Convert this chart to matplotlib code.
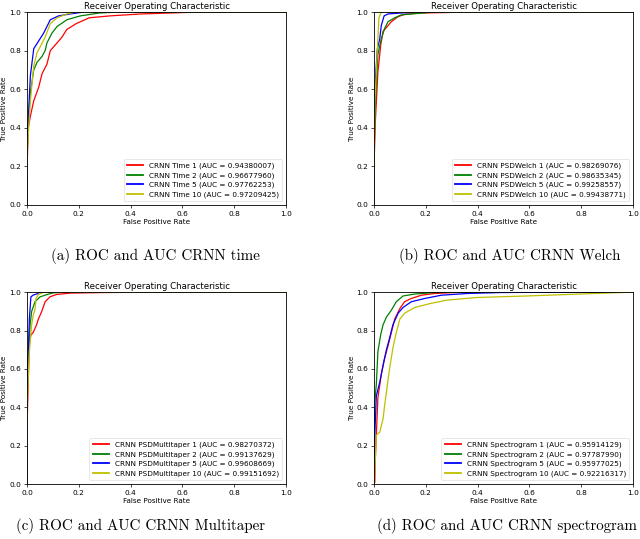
import matplotlib
matplotlib.use("Agg")
import matplotlib.pyplot as plt

COLORS = ["r", "g", "b", "y"]

# (a) time
time_names = ["CRNN Time 1", "CRNN Time 2", "CRNN Time 5", "CRNN Time 10"]
time_auc = [0.94380007, 0.96677960, 0.97762253, 0.97209425]
time_fpr = [
    [0, 0, 0.005, 0.013, 0.026, 0.045, 0.058, 0.077, 0.09, 0.116, 0.135, 0.154, 0.19, 0.24, 0.32, 0.44, 0.62, 1.0],
    [0, 0, 0.003, 0.013, 0.026, 0.039, 0.058, 0.07, 0.077, 0.096, 0.116, 0.154, 0.206, 0.28, 0.36, 1.0],
    [0, 0, 0.001, 0.013, 0.026, 0.045, 0.064, 0.09, 0.122, 0.167, 0.22, 1.0],
    [0, 0, 0.001, 0.013, 0.026, 0.039, 0.051, 0.07, 0.09, 0.116, 0.154, 0.19, 1.0],
]
time_tpr = [
    [0, 0.18, 0.40, 0.46, 0.54, 0.61, 0.68, 0.73, 0.80, 0.84, 0.87, 0.91, 0.94, 0.97, 0.98, 0.99, 0.998, 1.0],
    [0, 0.2, 0.41, 0.58, 0.70, 0.74, 0.77, 0.80, 0.84, 0.89, 0.925, 0.96, 0.98, 0.995, 1.0, 1.0],
    [0, 0.2, 0.34, 0.67, 0.81, 0.85, 0.89, 0.96, 0.98, 0.99, 1.0, 1.0],
    [0, 0.15, 0.28, 0.54, 0.72, 0.79, 0.82, 0.87, 0.94, 0.97, 0.99, 1.0, 1.0],
]

# (b) Welch
welch_names = ["CRNN PSDWelch 1", "CRNN PSDWelch 2", "CRNN PSDWelch 5", "CRNN PSDWelch 10"]
welch_auc = [0.98269076, 0.98635345, 0.99258557, 0.99438771]
welch_fpr = [
    [0, 0, 0.005, 0.015, 0.026, 0.035, 0.048, 0.067, 0.093, 0.118, 0.18, 0.3, 0.55, 1.0],
    [0, 0, 0.005, 0.015, 0.028, 0.041, 0.054, 0.08, 0.105, 0.144, 0.234, 1.0],
    [0, 0, 0.003, 0.013, 0.022, 0.028, 0.039, 0.054, 0.105, 0.17, 1.0],
    [0, 0, 0.003, 0.013, 0.019, 0.028, 1.0],
]
welch_tpr = [
    [0, 0.2, 0.43, 0.69, 0.83, 0.90, 0.92, 0.95, 0.976, 0.988, 0.995, 0.998, 1.0, 1.0],
    [0, 0.25, 0.52, 0.78, 0.86, 0.915, 0.95, 0.97, 0.985, 0.99, 1.0, 1.0],
    [0, 0.3, 0.60, 0.81, 0.86, 0.93, 0.98, 0.99, 0.995, 1.0, 1.0],
    [0, 0.15, 0.52, 0.81, 0.97, 1.0, 1.0],
]

# (c) Multitaper
mt_names = ["CRNN PSDMultitaper 1", "CRNN PSDMultitaper 2", "CRNN PSDMultitaper 5", "CRNN PSDMultitaper 10"]
mt_auc = [0.98270372, 0.99137629, 0.99608669, 0.99151692]
mt_fpr = [
    [0, 0, 0.001, 0.009, 0.015, 0.024, 0.037, 0.044, 0.057, 0.07, 0.089, 0.115, 0.166, 0.3, 0.5, 1.0],
    [0, 0, 0.001, 0.012, 0.018, 0.031, 0.05, 0.076, 0.1, 0.14, 1.0],
    [0, 0, 0.001, 0.009, 0.015, 0.024, 0.037, 0.05, 1.0],
    [0, 0, 0.001, 0.009, 0.018, 0.024, 0.031, 0.035, 0.044, 0.063, 0.09, 1.0],
]
mt_tpr = [
    [0, 0.2, 0.34, 0.74, 0.776, 0.79, 0.83, 0.86, 0.90, 0.95, 0.976, 0.988, 0.995, 0.998, 1.0, 1.0],
    [0, 0.3, 0.60, 0.83, 0.90, 0.95, 0.975, 0.987, 0.996, 1.0, 1.0],
    [0, 0.3, 0.52, 0.86, 0.975, 0.985, 0.99, 1.0, 1.0],
    [0, 0.2, 0.43, 0.69, 0.83, 0.88, 0.91, 0.967, 0.988, 0.998, 1.0, 1.0],
]

# (d) spectrogram
spec_names = ["CRNN Spectrogram 1", "CRNN Spectrogram 2", "CRNN Spectrogram 5", "CRNN Spectrogram 10"]
spec_auc = [0.95914129, 0.97787990, 0.95977025, 0.92216317]
spec_fpr = [
    [0, 0.003, 0.005, 0.015, 0.028, 0.041, 0.054, 0.067, 0.08, 0.1, 0.118, 0.144, 0.183, 0.234, 0.31, 0.43, 1.0],
    [0, 0, 0.003, 0.009, 0.015, 0.026, 0.035, 0.048, 0.067, 0.086, 0.112, 0.157, 0.234, 0.31, 1.0],
    [0, 0, 0.003, 0.009, 0.022, 0.035, 0.048, 0.06, 0.073, 0.093, 0.112, 0.144, 0.196, 0.26, 0.36, 0.49, 0.75, 1.0],
    [0, 0.003, 0.009, 0.022, 0.035, 0.041, 0.048, 0.06, 0.073, 0.086, 0.1, 0.118, 0.157, 0.215, 0.28, 0.395, 0.59, 0.79, 1.0],
]
spec_tpr = [
    [0, 0.01, 0.13, 0.45, 0.57, 0.655, 0.72, 0.79, 0.86, 0.915, 0.95, 0.967, 0.984, 0.993, 0.998, 1.0, 1.0],
    [0, 0.2, 0.43, 0.52, 0.69, 0.78, 0.83, 0.87, 0.906, 0.95, 0.98, 0.99, 0.998, 1.0, 1.0],
    [0, 0.1, 0.255, 0.46, 0.53, 0.62, 0.70, 0.76, 0.83, 0.89, 0.92, 0.95, 0.967, 0.984, 0.993, 0.998, 1.0, 1.0],
    [0, 0.064, 0.255, 0.27, 0.34, 0.41, 0.48, 0.60, 0.71, 0.79, 0.86, 0.89, 0.92, 0.94, 0.958, 0.972, 0.98, 0.99, 1.0],
]

captions = [
    "(a) ROC and AUC CRNN time",
    "(b) ROC and AUC CRNN Welch",
    "(c) ROC and AUC CRNN Multitaper",
    "(d) ROC and AUC CRNN spectrogram",
]

panels = [
    (time_names, time_auc, time_fpr, time_tpr),
    (welch_names, welch_auc, welch_fpr, welch_tpr),
    (mt_names, mt_auc, mt_fpr, mt_tpr),
    (spec_names, spec_auc, spec_fpr, spec_tpr),
]

# axes boxes in figure fractions [left, bottom, width, height]
boxes = [
    [0.0422, 0.6197, 0.4047, 0.358],
    [0.5844, 0.6197, 0.4047, 0.358],
    [0.0422, 0.1020, 0.4047, 0.356],
    [0.5844, 0.1020, 0.4047, 0.356],
]
caption_pos = [(155 / 640, 1 - 256 / 539), (510 / 640, 1 - 256 / 539),
               (140 / 640, 1 - 526 / 539), (507 / 640, 1 - 526 / 539)]

fig = plt.figure(figsize=(6.4, 5.39), dpi=100)

for box, (names, aucs, fprs, tprs), cap, cpos in zip(boxes, panels, captions, caption_pos):
    ax = fig.add_axes(box)
    for name, auc, fpr, tpr, c in zip(names, aucs, fprs, tprs, COLORS):
        ax.plot(fpr, tpr, color=c, lw=0.9, label=f"{name} (AUC = {auc:.8f})")
    ax.set_xlim(0, 1)
    ax.set_ylim(0, 1)
    ax.set_title("Receiver Operating Characteristic", fontsize=6.2, pad=2)
    ax.set_xlabel("False Positive Rate", fontsize=5.2, labelpad=1.5)
    ax.set_ylabel("True Positive Rate", fontsize=5.2, labelpad=1.5)
    ax.tick_params(labelsize=5.3, length=2.5, width=0.5, pad=1.5)
    for s in ax.spines.values():
        s.set_linewidth(0.6)
    leg = ax.legend(loc="lower right", fontsize=5.2, handlelength=2.2, borderpad=0.5,
                    labelspacing=0.4, framealpha=0.8)
    leg.get_frame().set_linewidth(0.4)
    for line in leg.get_lines():
        line.set_linewidth(1.3)
    fig.text(cpos[0], cpos[1], cap, ha="center", va="center", fontsize=10.8, family="cmr10")

plt.savefig("out.png", dpi=100)
